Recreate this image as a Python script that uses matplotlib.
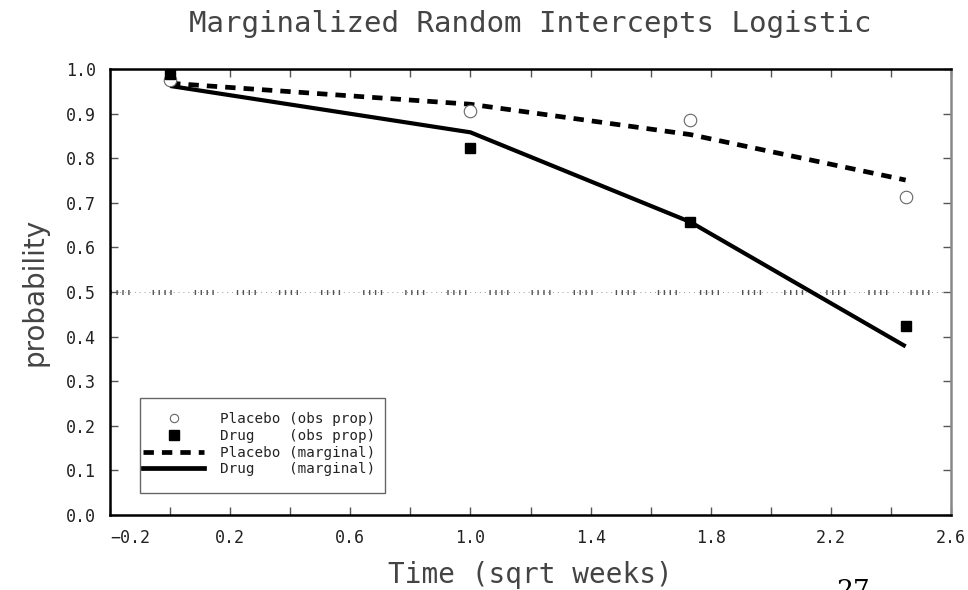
import matplotlib
matplotlib.use("Agg")
import matplotlib.pyplot as plt
from matplotlib.patches import Rectangle
from matplotlib.lines import Line2D

# ---- data ----
time = [0.0, 1.0, 1.732, 2.449]
placebo_obs = [0.975, 0.906, 0.886, 0.714]
drug_obs = [0.989, 0.823, 0.658, 0.423]
placebo_marg = [0.968, 0.921, 0.853, 0.751]
drug_marg = [0.962, 0.858, 0.657, 0.378]

xticks_major = [-0.2, 0.2, 0.6, 1.0, 1.4, 1.8, 2.2, 2.6]
xticks_minor = [0.0, 0.4, 0.8, 1.2, 1.6, 2.0, 2.4]
yticks = [0.0, 0.1, 0.2, 0.3, 0.4, 0.5, 0.6, 0.7, 0.8, 0.9, 1.0]
legend_labels = ["Placebo (obs prop)", "Drug    (obs prop)",
                 "Placebo (marginal)", "Drug    (marginal)"]
title = "Marginalized Random Intercepts Logistic"
xlabel = "Time (sqrt weeks)"
ylabel = "probability"
page_number = "27"

W, H = 968, 590
fig = plt.figure(figsize=(W / 100, H / 100), dpi=100)
L, R, T, B = 110, 951, 69, 515
ax = fig.add_axes([L / W, (H - B) / H, (R - L) / W, (B - T) / H])
ax.set_xlim(-0.2, 2.6)
ax.set_ylim(0.0, 1.0)

mono = "DejaVu Sans Mono"

# reference line at 0.5
ax.axhline(0.5, color="#999999", lw=0.7, ls=(0, (1, 4)), zorder=1)
ax.axhline(0.5, color="#555555", lw=3.6,
           ls=(0, (0.28, 0.9, 0.28, 0.9, 0.28, 0.9, 0.28, 4.6)),
           dash_capstyle="butt", zorder=1)

# lines
ax.plot(time, drug_marg, color="black", lw=3.0, solid_capstyle="butt", zorder=3)
ax.plot(time, placebo_marg, color="black", lw=3.4,
        ls=(0, (2.2, 1.7)), dash_capstyle="butt", zorder=3)
# points
ax.plot(time, placebo_obs, ls="none", marker="o", ms=9, mfc="white",
        mec="#666666", mew=0.8, zorder=4)
ax.plot(time, drug_obs, ls="none", marker="s", ms=7.8, mfc="black",
        mec="black", zorder=5)

# ticks
ax.set_xticks(xticks_major)
ax.set_xticklabels([f"{v:.1f}".replace("-", "\u2212") for v in xticks_major])
ax.set_xticks(xticks_minor, minor=True)
ax.set_yticks(yticks)
ax.set_yticklabels([f"{v:.1f}" for v in yticks])
ax.tick_params(which="both", direction="in", length=6, width=1.0,
               color="#555555", top=True, right=True,
               labelsize=12, labelcolor="#222222", pad=10)
for lab in ax.get_xticklabels() + ax.get_yticklabels():
    lab.set_fontfamily(mono)
ax.get_xticklabels()[0].set_horizontalalignment("left")

for s in ["left", "bottom", "top"]:
    ax.spines[s].set_linewidth(1.8)
    ax.spines[s].set_color("black")
ax.spines["right"].set_linewidth(1.8)
ax.spines["right"].set_color("#888888")

# legend box drawn as a fixed rectangle
lx0, ly0, lx1, ly1 = 140, 398, 385, 493
box = Rectangle(((lx0 - L) / (R - L), (B - ly1) / (B - T)),
                (lx1 - lx0) / (R - L), (ly1 - ly0) / (B - T),
                transform=ax.transAxes, fill=True, facecolor="white",
                edgecolor="#666666", lw=1.0, zorder=6)
ax.add_patch(box)
handles = [
    Line2D([], [], ls="none", marker="o", ms=6, mfc="white", mec="#666666", mew=0.8),
    Line2D([], [], ls="none", marker="s", ms=7, mfc="black", mec="black"),
    Line2D([], [], color="black", lw=3.4, ls=(0, (2.2, 1.7)), dash_capstyle="butt"),
    Line2D([], [], color="black", lw=3.4),
]
leg = ax.legend(handles, legend_labels, loc="upper left",
                bbox_to_anchor=((lx0 - L) / (R - L), (B - 409) / (B - T)),
                frameon=False, borderaxespad=0, borderpad=0.2,
                handlelength=4.3, handletextpad=1.1, labelspacing=0.2,
                prop={"family": mono, "size": 10.3})
for t in leg.get_texts():
    t.set_color("#222222")
leg.set_zorder(7)

# texts
fig.text(0.5 * (L + R) / W, 1 - 32 / H, title, ha="center", va="baseline",
         fontsize=21, family=mono, color="#444444")
fig.text(0.5 * (L + R) / W, 1 - 583 / H, xlabel, ha="center", va="baseline",
         fontsize=20, family=mono, color="#444444")
fig.text(35 / W, 1 - 0.5 * (T + B) / H, ylabel, ha="center", va="center",
         rotation=90, fontsize=20, family="DejaVu Sans", color="#444444")
fig.text(853 / W, 1 - 578 / H, page_number, ha="center", va="top",
         fontsize=19, family="DejaVu Serif", color="black")

fig.savefig("out.png", dpi=100)
